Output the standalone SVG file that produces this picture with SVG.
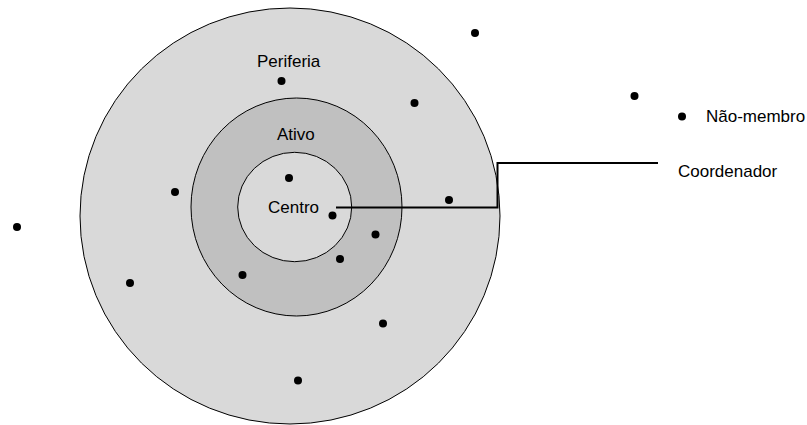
<svg xmlns="http://www.w3.org/2000/svg" width="807" height="425" viewBox="0 0 807 425">
<style>
.ring{stroke:#000;stroke-width:1}
.dot{fill:#000}
.lbl{font-family:"Liberation Sans",Arial,sans-serif;font-size:17px;fill:#000}
</style>
<defs><circle id="d" r="4"/></defs>
<rect width="807" height="425" fill="#fff"/>
<g id="periferia">
<ellipse class="ring" cx="290" cy="216" rx="210" ry="208" fill="#d9d9d9"/>
<text class="lbl" x="257" y="67">Periferia</text>
</g>
<g id="ativo">
<ellipse class="ring" cx="296.5" cy="207" rx="105.5" ry="109" fill="#c0c0c0"/>
<text class="lbl" x="277" y="140">Ativo</text>
</g>
<g id="centro">
<ellipse class="ring" cx="294.7" cy="207" rx="57" ry="54.7" fill="#d9d9d9"/>
<text class="lbl" x="268" y="213">Centro</text>
</g>
<g id="connectors">
<polyline points="336,207.5 497.5,207.5 497.5,163 658,163" fill="none" stroke="#000" stroke-width="2"/>
</g>
<g id="coordenador">
<text class="lbl" x="678" y="177">Coordenador</text>
</g>
<g id="nao-membro">
<use href="#d" x="682" y="116.5"/>
<text class="lbl" x="706" y="122">Não-membro</text>
</g>
<g id="dots" class="dot">
<use href="#d" x="475" y="33"/>
<use href="#d" x="634.5" y="96"/>
<use href="#d" x="281.5" y="81"/>
<use href="#d" x="414.5" y="103"/>
<use href="#d" x="289" y="178"/>
<use href="#d" x="332.5" y="215.5"/>
<use href="#d" x="375.5" y="234.5"/>
<use href="#d" x="340" y="259"/>
<use href="#d" x="242.5" y="275"/>
<use href="#d" x="175" y="192"/>
<use href="#d" x="449" y="200"/>
<use href="#d" x="17" y="227"/>
<use href="#d" x="130" y="283"/>
<use href="#d" x="383" y="323.5"/>
<use href="#d" x="298" y="380.5"/>
</g>
</svg>
